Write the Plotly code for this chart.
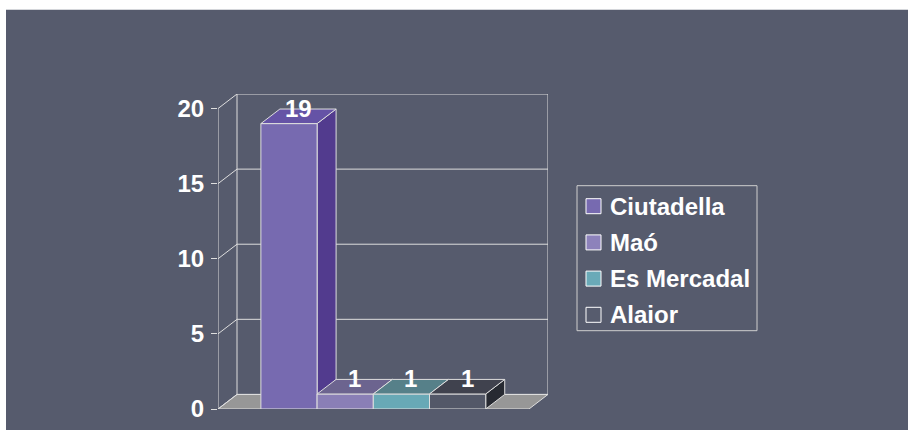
import plotly.graph_objects as go

# ---- data ----
categories = ["Ciutadella", "Maó", "Es Mercadal", "Alaior"]
values = [19, 1, 1, 1]
tick_values = [0, 5, 10, 15, 20]
tick_labels = ["0", "5", "10", "15", "20"]

# ---- styles ----
front_colors = ["#776ab0", "#8a7fb6", "#68a9b6", "#535868"]
top_colors = ["#6553a6", "#6c648f", "#568089", "#40424e"]
side_colors = ["#523b8e", "#4a4670", "#3f6770", "#272a32"]
legend_colors = ["#776ab0", "#8d82bb", "#6aaab8", "#575c6e"]
BG = "#565b6d"
EDGE = "#dedede"
FLOOR = "#979797"
FONT = "Arial"

W, H = 909, 430
DX = 0.338   # depth offset (category units)
DY = 0.97    # depth offset (value units)
X_LEFT = -1.263
X_RIGHT_FRONT = 4.27
X_RIGHT_BACK = X_RIGHT_FRONT + DX
Y_TOP = max(tick_values)

ML, MR, MT, MB = 218, 361, 94.3, 20.7
PW, PH = W - ML - MR, H - MT - MB


def px_to_paper_x(px):
    return (px - ML) / PW


def px_to_paper_y(py):
    return (H - MB - py) / PH


fig = go.Figure()


def poly(xs, ys, fill, line=EDGE, width=1):
    fig.add_trace(go.Scatter(
        x=list(xs) + [xs[0]], y=list(ys) + [ys[0]], mode="lines",
        fill="toself", fillcolor=fill, line=dict(color=line, width=width),
        showlegend=False, hoverinfo="skip", cliponaxis=False))


def lines(xs, ys, color=EDGE, width=1):
    fig.add_trace(go.Scatter(
        x=xs, y=ys, mode="lines", line=dict(color=color, width=width),
        showlegend=False, hoverinfo="skip", cliponaxis=False))


# floor
poly([X_LEFT, X_RIGHT_FRONT, X_RIGHT_BACK, X_LEFT + DX],
     [0, 0, DY, DY], FLOOR)

# back-wall grid, diagonals from the front axis, walls
gx, gy = [], []
for t in tick_values:
    gx += [X_LEFT, X_LEFT + DX, X_RIGHT_BACK, None]
    gy += [t, t + DY, t + DY, None]
gx += [X_LEFT + DX, X_LEFT + DX, None, X_RIGHT_BACK, X_RIGHT_BACK, None,
       X_LEFT, X_LEFT]
gy += [DY, Y_TOP + DY, None, DY, Y_TOP + DY, None, 0, Y_TOP]
lines(gx, gy)

# bars (side, front, top), left to right
for i, v in enumerate(values):
    l, r = i - 0.5, i + 0.5
    poly([r, r + DX, r + DX, r], [0, DY, v + DY, v], side_colors[i])
    poly([l, r, r, l], [0, 0, v, v], front_colors[i])
    poly([l, r, r + DX, l + DX], [v, v, v + DY, v + DY], top_colors[i])

# value labels
for i, v in enumerate(values):
    fig.add_annotation(
        x=i + DX / 2, y=v + DY / 2, text=str(v), showarrow=False,
        yanchor="middle", yshift=8,
        font=dict(family=FONT, size=24, color="white", weight="bold"))

# legend (box, swatches, labels)
LEG_L, LEG_R, LEG_T, LEG_B = 577, 757, 186, 331
ROW0, ROW_STEP = 206.5, 36.2
shapes = [dict(type="rect", xref="paper", yref="paper", layer="below",
               x0=px_to_paper_x(6), x1=px_to_paper_x(908),
               y0=px_to_paper_y(440), y1=px_to_paper_y(10),
               fillcolor=BG, line=dict(width=0)),
          dict(type="rect", xref="paper", yref="paper",
               x0=px_to_paper_x(LEG_L), x1=px_to_paper_x(LEG_R),
               y0=px_to_paper_y(LEG_B), y1=px_to_paper_y(LEG_T),
               line=dict(color="#cfcfcf", width=1))]
for i, c in enumerate(categories):
    cy = ROW0 + i * ROW_STEP
    shapes.append(dict(type="rect", xref="paper", yref="paper",
                       x0=px_to_paper_x(586), x1=px_to_paper_x(601),
                       y0=px_to_paper_y(cy + 7.5), y1=px_to_paper_y(cy - 7.5),
                       fillcolor=legend_colors[i],
                       line=dict(color="white", width=1)))
    fig.add_annotation(
        xref="paper", yref="paper", x=px_to_paper_x(608),
        y=px_to_paper_y(cy), text=c, showarrow=False,
        xanchor="left", yanchor="middle",
        font=dict(family=FONT, size=24, color="white", weight="bold"))

fig.update_layout(
    width=W, height=H,
    margin=dict(l=ML, r=MR, t=MT, b=MB, pad=0),
    paper_bgcolor="white", plot_bgcolor="rgba(0,0,0,0)",
    xaxis=dict(range=[X_LEFT, X_RIGHT_BACK], visible=False, fixedrange=True),
    yaxis=dict(range=[0, Y_TOP + DY], showgrid=False, zeroline=False,
               showline=False, ticks="outside", ticklen=6, tickcolor=EDGE,
               tickwidth=1, tickvals=tick_values, ticktext=tick_labels,
               ticklabelstandoff=2, automargin=False,
               tickfont=dict(family=FONT, size=24, color="white",
                             weight="bold"), fixedrange=True),
    shapes=shapes,
    showlegend=False,
)

fig.write_html(
    "out.html",
    config={"displayModeBar": False, "staticPlot": True},
    post_script=(
        "document.documentElement.style.margin='0';"
        "document.documentElement.style.overflow='hidden';"
        "document.body.style.margin='0';"
        "document.body.style.overflow='hidden';"
        "document.body.style.height='430px';"
    ),
)
